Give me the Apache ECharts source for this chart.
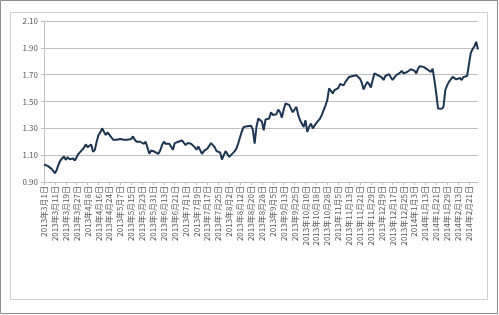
<!DOCTYPE html>
<html>
<head>
<meta charset="utf-8">
<script src="https://cdn.jsdelivr.net/npm/echarts@6/dist/echarts.min.js"></script>
<style>
html,body{margin:0;padding:0;background:#fff;}
#c{width:499px;height:315px;}
</style>
</head>
<body>
<div id="c"></div>
<script>
// Trading days per month (year, month, days)
const tradingMonths = [
  [2013, 3, [1,4,5,6,7,8,11,12,13,14,15,18,19,20,21,22,25,26,27,28,29]],
  [2013, 4, [1,2,3,8,9,10,11,12,15,16,17,18,19,22,23,24,25,26]],
  [2013, 5, [2,3,6,7,8,9,10,13,14,15,16,17,20,21,22,23,24,27,28,29,30,31]],
  [2013, 6, [3,4,5,6,7,13,14,17,18,19,20,21,24,25,26,27,28]],
  [2013, 7, [1,2,3,4,5,8,9,10,11,12,15,16,17,18,19,22,23,24,25,26,29,30,31]],
  [2013, 8, [1,2,5,6,7,8,9,12,13,14,15,16,19,20,21,22,23,26,27,28,29,30]],
  [2013, 9, [2,3,4,5,6,9,10,11,12,13,16,17,18,23,24,25,26,27,30]],
  [2013, 10, [8,9,10,11,14,15,16,17,18,21,22,23,24,25,28,29,30,31]],
  [2013, 11, [1,4,5,6,7,8,11,12,13,14,15,18,19,20,21,22,25,26,27,28,29]],
  [2013, 12, [2,3,4,5,6,9,10,11,12,13,16,17,18,19,20,23,24,25,26,27,30,31]],
  [2014, 1, [2,3,6,7,8,9,10,13,14,15,16,17,20,21,22,23,24,27,28,29,30]],
  [2014, 2, [7,10,11,12,13,14,17,18,19,20,21,24,25,26,27,28]]
];

const values = [
  1.03, 1.035, 1.02, 1.01, 1.0, 0.985,
  0.965, 0.99, 1.03, 1.06, 1.075, 1.09,
  1.065, 1.085, 1.07, 1.08, 1.075, 1.06,
  1.065, 1.11, 1.12, 1.14, 1.155, 1.18,
  1.16, 1.165, 1.18, 1.125, 1.14, 1.2,
  1.25, 1.27, 1.3, 1.275, 1.25, 1.27,
  1.265, 1.235, 1.215, 1.22, 1.215, 1.215,
  1.22, 1.215, 1.215, 1.22, 1.215, 1.215,
  1.22, 1.24, 1.215, 1.2, 1.205, 1.2,
  1.19, 1.185, 1.2, 1.19, 1.11, 1.135,
  1.13, 1.125, 1.12, 1.11, 1.135, 1.175,
  1.2, 1.185, 1.19, 1.185, 1.19, 1.14,
  1.19, 1.195, 1.2, 1.2, 1.21, 1.215,
  1.175, 1.19, 1.185, 1.185, 1.18, 1.16,
  1.14, 1.165, 1.155, 1.11, 1.13, 1.14,
  1.15, 1.15, 1.19, 1.175, 1.16, 1.13,
  1.125, 1.12, 1.067, 1.1, 1.13, 1.13,
  1.087, 1.1, 1.115, 1.13, 1.15, 1.19,
  1.236, 1.28, 1.31, 1.31, 1.315, 1.31,
  1.32, 1.29, 1.186, 1.31, 1.373, 1.36,
  1.35, 1.286, 1.366, 1.37, 1.373, 1.42,
  1.4, 1.41, 1.405, 1.44, 1.42, 1.38,
  1.44, 1.485, 1.48, 1.475, 1.485, 1.42,
  1.44, 1.46, 1.4, 1.36, 1.37, 1.31,
  1.36, 1.273, 1.31, 1.336, 1.30, 1.32,
  1.34, 1.348, 1.373, 1.40, 1.435, 1.47,
  1.51, 1.597, 1.58, 1.56, 1.585, 1.59,
  1.6, 1.63, 1.625, 1.62, 1.646, 1.66,
  1.683, 1.69, 1.69, 1.7, 1.695, 1.704,
  1.67, 1.64, 1.59, 1.62, 1.646, 1.63,
  1.604, 1.66, 1.71, 1.70, 1.695, 1.704,
  1.68, 1.66, 1.69, 1.695, 1.704, 1.68,
  1.66, 1.68, 1.696, 1.705, 1.713, 1.728,
  1.71, 1.696, 1.72, 1.733, 1.74, 1.746,
  1.73, 1.71, 1.745, 1.763, 1.755, 1.758,
  1.75, 1.74, 1.735, 1.72, 1.745, 1.66,
  1.56, 1.448, 1.443, 1.445, 1.46, 1.584,
  1.62, 1.646, 1.66, 1.683, 1.675, 1.665,
  1.67, 1.675, 1.66, 1.683, 1.69, 1.69,
  1.69, 1.86, 1.89, 1.91, 1.945, 1.888
];

const yMin = 0.9, yMax = 2.1, yStep = 0.2;

const categories = [];
tradingMonths.forEach(function (m) {
  m[2].forEach(function (d) { categories.push(m[0] + '年' + m[1] + '月' + d + '日'); });
});

const chart = echarts.init(document.getElementById('c'), null, {renderer: 'canvas'});
const labelFont = '"Noto Sans CJK SC", "Liberation Sans", sans-serif';
chart.setOption({
  backgroundColor: '#ffffff',
  animation: false,
  graphic: [
    {type: 'rect', shape: {x: 0.5, y: 0.5, width: 497, height: 313}, style: {fill: 'none', stroke: '#8c8c8c', lineWidth: 1}, z: -1},
    {type: 'rect', shape: {x: 10.5, y: 12.5, width: 477, height: 287}, style: {fill: 'none', stroke: '#d0d0d0', lineWidth: 1}, z: -1}
  ],
  grid: {left: 44, right: 21, top: 21, bottom: 133},
  xAxis: {
    type: 'category',
    data: categories,
    boundaryGap: false,
    axisLine: {lineStyle: {color: '#bfbfbf'}},
    axisTick: {show: true, interval: 5, length: 3, lineStyle: {color: '#bfbfbf'}},
    axisLabel: {interval: 5, rotate: 90, fontSize: 8, color: '#595959', fontFamily: labelFont, margin: 4},
    splitLine: {show: false}
  },
  yAxis: {
    type: 'value',
    min: yMin, max: yMax, interval: yStep,
    axisLine: {show: true, lineStyle: {color: '#bfbfbf'}},
    axisTick: {show: true, length: 3, lineStyle: {color: '#bfbfbf'}},
    axisLabel: {fontSize: 8, color: '#595959', fontFamily: labelFont, margin: 6,
      formatter: function (v) { return v.toFixed(2); }},
    splitLine: {show: true, lineStyle: {color: '#bfbfbf', width: 1}}
  },
  series: [{
    type: 'line',
    data: values,
    showSymbol: false,
    symbol: 'none',
    lineStyle: {color: '#1c3552', width: 2},
    itemStyle: {color: '#1c3552'}
  }]
});
</script>
</body>
</html>
